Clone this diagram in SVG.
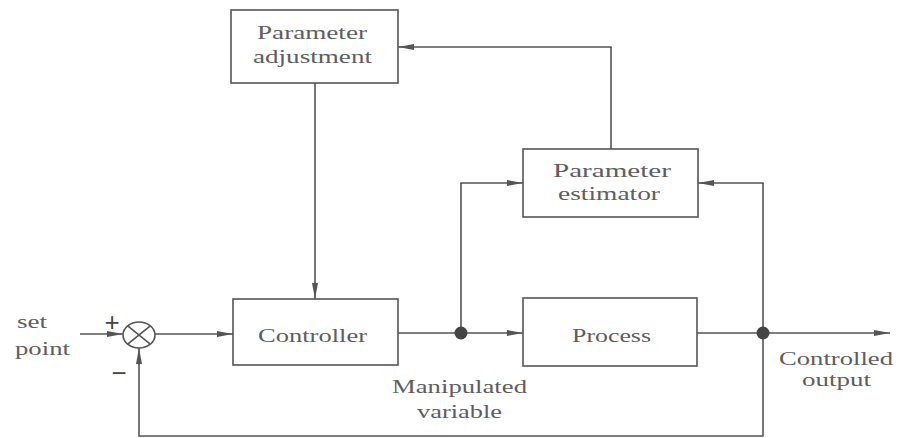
<svg xmlns="http://www.w3.org/2000/svg" width="898" height="438" viewBox="0 0 898 438">
<defs>
<style>
.box{fill:#fff;stroke:#555;stroke-width:1.6}
.ln{fill:none;stroke:#555;stroke-width:1.6}
.ar{fill:none;stroke:#555;stroke-width:1.6;marker-end:url(#ah)}
.t{font-family:"Liberation Serif","Times New Roman",serif;font-size:18px;fill:#5e5e5e}
.sym{font-family:"Liberation Sans",Arial,sans-serif;font-size:26px;fill:#444}
.dot{fill:#444}
</style>
<marker id="ah" viewBox="0 0 16 8" refX="16" refY="4" markerWidth="16" markerHeight="8" markerUnits="userSpaceOnUse" orient="auto">
<path d="M0,1 L16,4 L0,7 Z" fill="#555"/>
</marker>
</defs>
<rect width="898" height="438" fill="#fff"/>
<g id="connectors">
<path class="ar" d="M80,334 L123,334"/>
<path class="ar" d="M155,334 L233,334"/>
<path class="ar" d="M315,83 L315,299"/>
<path class="ln" d="M398,333 L461,333"/>
<path class="ar" d="M461,333 L523,333"/>
<path class="ar" d="M461,333 L461,183 L523,183"/>
<path class="ar" d="M611,149 L611,47 L398,47"/>
<path class="ar" d="M697,333 L890,333"/>
<path class="ar" d="M763,333 L763,183 L698,183"/>
<path class="ar" d="M763,333 L763,436 L139,436 L139,348"/>
<circle class="dot" cx="461" cy="333" r="6.5"/>
<circle class="dot" cx="763" cy="333" r="6.5"/>
</g>
<g id="sum">
<ellipse cx="139" cy="335" rx="16" ry="13" fill="#fff" stroke="#555" stroke-width="1.6"/>
<path class="ln" d="M127.7,325.8 L150.3,344.2 M150.3,325.8 L127.7,344.2"/>
<text class="sym" x="112" y="331" text-anchor="middle">+</text>
<text class="sym" x="119" y="382" text-anchor="middle">−</text>
</g>
<g id="setpoint">
<text class="t" x="17" y="328" textLength="30" lengthAdjust="spacingAndGlyphs">set</text>
<text class="t" x="15" y="355" textLength="55" lengthAdjust="spacingAndGlyphs">point</text>
</g>
<g id="parameter-adjustment">
<rect class="box" x="231" y="10" width="167" height="73"/>
<text class="t" x="257" y="39" textLength="110" lengthAdjust="spacingAndGlyphs">Parameter</text>
<text class="t" x="253" y="63" textLength="119" lengthAdjust="spacingAndGlyphs">adjustment</text>
</g>
<g id="parameter-estimator">
<rect class="box" x="523" y="149" width="175" height="68"/>
<text class="t" x="553" y="177" textLength="118" lengthAdjust="spacingAndGlyphs">Parameter</text>
<text class="t" x="558" y="200" textLength="102" lengthAdjust="spacingAndGlyphs">estimator</text>
</g>
<g id="controller">
<rect class="box" x="233" y="299" width="165" height="66"/>
<text class="t" x="258" y="342" textLength="109" lengthAdjust="spacingAndGlyphs">Controller</text>
</g>
<g id="process">
<rect class="box" x="523" y="298" width="174" height="68"/>
<text class="t" x="572" y="342" textLength="79" lengthAdjust="spacingAndGlyphs">Process</text>
</g>
<g id="labels">
<text class="t" x="392" y="393" textLength="135" lengthAdjust="spacingAndGlyphs">Manipulated</text>
<text class="t" x="417" y="418" textLength="85" lengthAdjust="spacingAndGlyphs">variable</text>
<text class="t" x="779" y="365" textLength="114" lengthAdjust="spacingAndGlyphs">Controlled</text>
<text class="t" x="802" y="386" textLength="69" lengthAdjust="spacingAndGlyphs">output</text>
</g>
</svg>
